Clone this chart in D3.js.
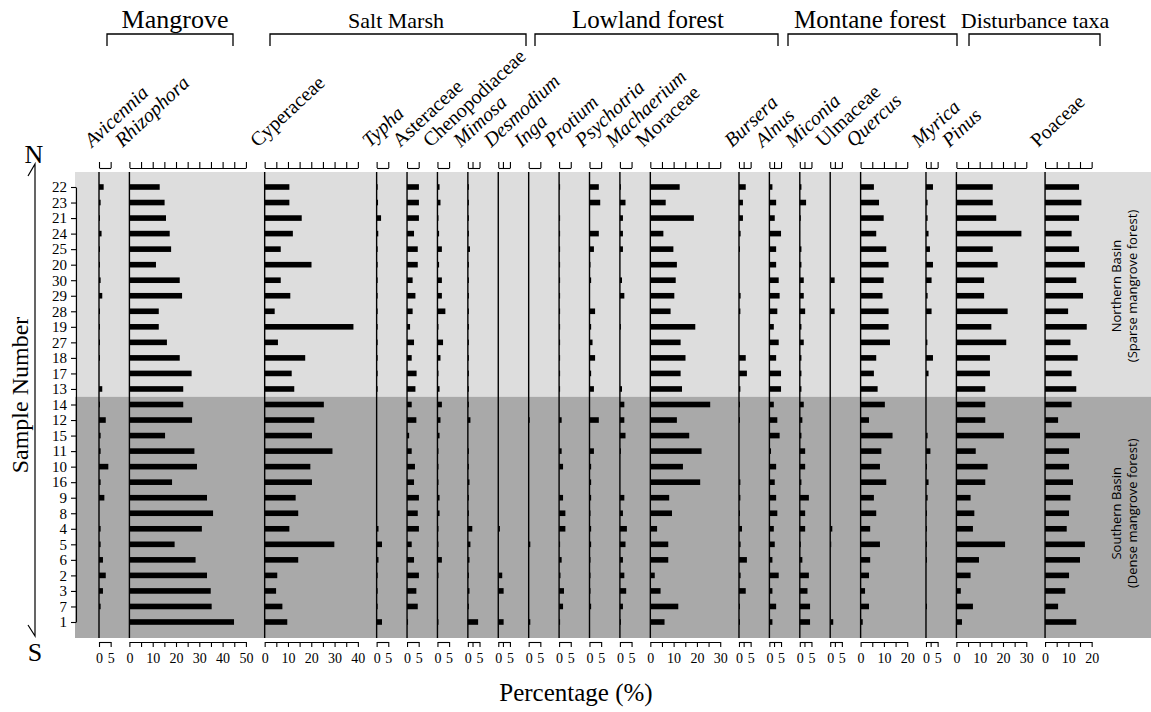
<!DOCTYPE html>
<html><head><meta charset="utf-8">
<script src="https://cdn.jsdelivr.net/npm/d3@7"></script>
<style>
html,body{margin:0;padding:0;background:#fff;}
svg text{font-family:"Liberation Serif","Times New Roman",serif;fill:#000;}
svg text.sans{font-family:"Open Sans","Noto Sans",sans-serif;}
</style></head>
<body>
<svg id="chart" width="1151" height="712"></svg>
<script>
// ---------- DATA ----------
const samples = ["22","23","21","24","25","20","30","29","28","19","27","18","17","13",
                 "14","12","15","11","10","16","9","8","4","5","6","2","3","7","1"];
const northSamples = ["22","23","21","24","25","20","30","29","28","19","27","18","17","13"];
const southSamples = ["14","12","15","11","10","16","9","8","4","5","6","2","3","7","1"];

const taxa = ["Avicennia","Rhizophora","Cyperaceae","Typha","Asteraceae","Chenopodiaceae","Mimosa","Desmodium",
              "Inga","Protium","Psychotria","Machaerium","Moraceae","Bursera","Alnus","Miconia","Ulmaceae",
              "Quercus","Myrica","Pinus","Poaceae"];
const italicTaxa = ["Avicennia","Rhizophora","Typha","Mimosa","Desmodium","Inga","Protium","Psychotria",
                    "Machaerium","Bursera","Alnus","Miconia","Quercus","Myrica","Pinus"];
const axisMax = [5,50,40,5,5,5,5,5,5,5,5,5,30,5,5,5,5,20,5,30,20];
const midTickTaxa = ["Mimosa","Desmodium","Bursera","Alnus","Miconia","Ulmaceae","Myrica"];

const groups = ["Mangrove","Salt Marsh","Lowland forest","Montane forest","Disturbance taxa"];

const Avicennia      = [2,0.7,0.2,1.1,0.2,0.2,0.7,1.4,0.2,0.2,0.2,0.2,0,1.4, 0.2,2.9,0.7,0.7,4,0.7,2.3,0,0.7,0.7,1.7,2.9,1.7,0.7,0];
const Rhizophora     = [13,15.1,15.7,17.3,17.9,11.4,21.6,22.6,12.6,12.6,16.1,21.6,26.7,23.1, 23.1,26.9,15.3,27.9,29,18.3,33.3,35.9,31.1,19.4,28.4,33.3,34.9,35.3,44.9];
const Cyperaceae     = [10.6,10.6,15.9,12.1,6.9,20.1,6.9,11,4.3,38.1,5.7,17.4,11.6,12.7, 25.4,21.3,20.3,29.1,19.6,20.3,13.3,14.4,10.6,29.9,14.4,5.4,4.9,7.6,9.7];
const Typha          = [0.1,0.6,1.9,0.7,0.1,0.1,0.1,0.1,0.1,0.1,0.1,0.1,0.1,0.1, 0,0,0,0,0,0,0,0,0.8,2.3,0.8,0.2,0.2,0.2,2.3];
const Asteraceae     = [5.1,5.1,5.1,3,4.6,4.6,2.4,3.6,2.4,1.3,3,2,4.1,3.6, 2,4,0.9,2,3.4,3,5.1,4.6,5.1,2,3,5.1,4,4.6,0.2];
const Chenopodiaceae = [0.9,1.3,0.1,0.7,1.9,0.7,1.9,1.9,3.4,0.2,2.4,1.3,0.2,0.9, 1.9,1.3,0.9,0.2,0.2,0.2,0.9,0.9,0.2,0.2,1.9,0.2,0,0,0.2];
const Mimosa         = [0.2,0.3,0.2,0.2,0.9,0.2,0.2,0.2,0.2,0.2,0.2,0.2,0.2,0.2, 0.2,1.1,0,0.2,0.2,0.7,0.2,0.2,1.9,1.1,0.7,0.2,0.7,0.2,4.4];
const Desmodium      = [0,0,0,0,0,0,0,0,0,0,0,0,0,0, 0,0,0,0,0,0,0,0,0.7,0,0,1.7,2.3,0,2.3];
const Inga           = [0,0,0,0,0,0,0,0,0,0,0,0,0,0, 0,0.2,0,0,0,0,0,0,0,0.7,0,0,0,0,0.7];
const Protium        = [0.3,0,0.3,0.3,0.3,0.3,0.3,0.3,0.3,0.3,0.3,0.3,0.3,0.3, 0,1.1,0,1.1,1.7,0,1.7,2.7,2.7,0.2,1.1,0.6,2.1,1.7,0.2];
const Psychotria     = [4,4.6,0,4,1.9,0.2,0.7,0,2.4,0.7,1.3,2.4,0.7,1.9, 0,4,0,1.9,0.7,0.7,0.7,0.2,0.7,0.7,0.2,0.2,0.2,0.7,0];
const Machaerium     = [0.2,2.4,1.3,1.3,1.3,0,0.9,1.9,0,0.2,0,0,0,0.9, 1.9,1.9,2.4,0.2,0,0,1.9,1.3,3,2.4,1.3,1.9,2.7,1.3,0.2];
const Moraceae       = [12.6,6.6,18.7,5.6,9.9,11.4,10.9,10.3,8.7,19.3,13,15.1,13,13.6, 25.7,11.4,16.7,22,14,21.4,8.1,9.3,2.9,7.7,7.7,1.9,4.4,12,6.1];
const Bursera        = [2.9,1.7,1.7,0.7,0.1,0,0,0.7,0.6,0,0,2.9,3.4,0.6, 0.2,0.2,0,0,0,0.6,0.6,0.2,1.3,0.7,3.4,0.7,2.9,0.2,0.2];
const Alnus          = [1.3,2.9,2.3,5,2.9,2.9,4,4.4,3.4,1.9,4,2.9,5,5, 1.9,3.4,4.4,0.7,2.9,2.3,2.9,3.4,1.9,2.3,1.3,4,1.3,2.9,1.3];
const Miconia        = [0.7,2.7,0.2,0,0.7,0.7,1.7,1.7,2.3,0.7,1.7,0.7,0.7,0.7, 1.7,1.1,0.7,2.3,2.3,0.7,3.9,2.3,2.3,0.2,1.1,3.9,3.3,4.4,4.4];
const Ulmaceae       = [0,0,0,0,0,0,1.9,0,1.9,0,0,0,0,0, 0,0,0,0,0,0,0,0,0.9,0.2,0,0,0,0,1.3];
const Quercus        = [5.7,7.9,9.9,6.7,11,12,9.9,9.4,12,12,12.6,6.7,5.7,7.3, 10.4,3.6,13.7,8.9,8.3,11,5.7,6.7,4.1,8.3,4.1,3.6,1.9,3.6,0.9];
const Myrica         = [3,0.7,0.7,1.1,1.7,3,2.4,0.7,2.4,0,0.6,3,1.1,0, 0,0,0.7,1.9,0.2,1.1,0.7,0.2,0.2,0.2,0.2,0,0,0.2,0];
const Pinus          = [15.6,15.6,17.1,27.9,15.6,17.7,11.9,11.9,22,15,21.4,14.4,14.4,12.4, 12.4,12.4,20.4,8.3,13.4,12.4,6.1,7.7,7.1,20.9,9.7,6.1,1.9,7.1,2.4];
const Poaceae        = [14.6,15.6,14.6,11.4,14.6,17.1,13.4,16.3,9.9,17.9,10.9,14,11.4,13.4, 11.4,5.6,15,10.3,10.3,12,10.9,10.3,9.3,17.1,15,10.3,8.7,5.6,13.4];

const values = [Avicennia,Rhizophora,Cyperaceae,Typha,Asteraceae,Chenopodiaceae,Mimosa,Desmodium,Inga,Protium,
                Psychotria,Machaerium,Moraceae,Bursera,Alnus,Miconia,Ulmaceae,Quercus,Myrica,Pinus,Poaceae];

// ---------- LAYOUT ----------
const W = 1151, H = 712;
const SERIF = "'Liberation Serif','Times New Roman',serif";
const pxPerPct = 2.33, colGap = 18.76, firstX = 99;
const bandTop = 172, bandBottom = 638, bandLeft = 75;
const bracketPx = [[107,233],[270,526],[535,778],[788,957],[969,1100]];
const groupCenter = [175,396,648,870,1035];
const groupSize = [26,22,25,25,22];

const svg = d3.select("#chart");

const x0 = [];
let cur = firstX;
axisMax.forEach(m=>{ x0.push(cur); cur += m*pxPerPct + colGap; });
const xScales = axisMax.map((m,i)=>d3.scaleLinear().domain([0,m]).range([x0[i], x0[i]+m*pxPerPct]));

const y = d3.scalePoint().domain(samples).range([187,622]);

const splitY = (y("13")+y("14"))/2;
svg.append("rect").attr("x",bandLeft).attr("y",bandTop).attr("width",W-bandLeft).attr("height",splitY-bandTop).attr("fill","#dddddd");
svg.append("rect").attr("x",bandLeft).attr("y",splitY).attr("width",W-bandLeft).attr("height",bandBottom-splitY).attr("fill","#a9a9a9");

taxa.forEach((t,i)=>{
  const xs = xScales[i];
  const g = svg.append("g");
  g.selectAll("rect").data(values[i].map((v,j)=>({v,s:samples[j]})).filter(d=>d.v>0))
   .join("rect")
   .attr("x",xs(0)).attr("y",d=>y(d.s)-2.8)
   .attr("width",d=>Math.max(1, xs(d.v)-xs(0))).attr("height",5.6).attr("fill","#000");
  g.append("line").attr("x1",xs(0)).attr("x2",xs(0)).attr("y1",bandTop).attr("y2",bandBottom)
   .attr("stroke","#000").attr("stroke-width",1.4);

  let tv;
  if (axisMax[i] > 5) tv = d3.range(0, axisMax[i]+0.01, 5);
  else if (midTickTaxa.includes(t)) tv = [0,2,5];
  else tv = [0,5];
  const labelFmt = d=> (axisMax[i] > 5 ? (d%10===0 ? d : "") : (d===0||d===5 ? d : ""));

  const top = svg.append("g").attr("transform","translate(0,168)")
     .call(d3.axisTop(xs).tickValues(tv).tickSize(6).tickSizeOuter(0).tickFormat(""));
  const bot = svg.append("g").attr("transform","translate(0,642)")
     .call(d3.axisBottom(xs).tickValues(tv).tickSize(5).tickSizeOuter(0).tickFormat(labelFmt).tickPadding(6));
  [top,bot].forEach(a=>{
    a.attr("font-family",SERIF);
    a.selectAll("path,line").attr("stroke","#000").attr("stroke-width",1.1);
    a.selectAll("text").style("font-family",SERIF).attr("font-size",14).attr("fill","#000");
  });

  svg.append("text")
     .attr("transform",`translate(${xs(0)-7},148) rotate(-43)`)
     .style("font-family",SERIF)
     .attr("font-size",20)
     .attr("font-style", italicTaxa.includes(t) ? "italic" : "normal")
     .text(t);
});

groups.forEach((gname,i)=>{
  const [a,b] = bracketPx[i];
  svg.append("path").attr("d",`M${a},46V34H${b}V46`).attr("fill","none").attr("stroke","#000").attr("stroke-width",1.3);
  svg.append("text").attr("x",groupCenter[i]).attr("y",28).attr("text-anchor","middle")
     .style("font-family",SERIF).attr("font-size",groupSize[i]).text(gname);
});

const ya = svg.append("g").attr("transform","translate(76,0)")
   .call(d3.axisLeft(y).tickSize(5).tickSizeOuter(0).tickPadding(4));
ya.attr("font-family",SERIF);
ya.selectAll("path,line").attr("stroke","#000").attr("stroke-width",1.1);
ya.selectAll("text").style("font-family",SERIF).attr("font-size",15).attr("fill","#000");

svg.append("path").attr("d","M28,176L35,164V636L28,625").attr("fill","none").attr("stroke","#000").attr("stroke-width",1.2);
svg.append("text").attr("x",34).attr("y",163).attr("text-anchor","middle").style("font-family",SERIF).attr("font-size",26).text("N");
svg.append("text").attr("x",35).attr("y",661).attr("text-anchor","middle").style("font-family",SERIF).attr("font-size",26).text("S");

svg.append("text").attr("transform","translate(28,395) rotate(-90)").attr("text-anchor","middle")
   .style("font-family",SERIF).attr("font-size",24).text("Sample Number");
svg.append("text").attr("x",576).attr("y",701).attr("text-anchor","middle")
   .style("font-family",SERIF).attr("font-size",25).text("Percentage (%)");

function basin(cy, l1, l2){
  const t = svg.append("text").attr("class","sans").attr("transform",`translate(1121,${cy}) rotate(-90)`)
    .attr("text-anchor","middle").attr("font-size",13);
  t.append("tspan").attr("x",0).attr("dy",0).text(l1);
  t.append("tspan").attr("x",0).attr("dy",16).text(l2);
}
basin((y(northSamples[0])+y(northSamples[northSamples.length-1]))/2 - 2, "Northern Basin", "(Sparse mangrove forest)");
basin((y(southSamples[0])+y(southSamples[southSamples.length-1]))/2, "Southern Basin", "(Dense mangrove  forest)");
</script>
</body></html>
